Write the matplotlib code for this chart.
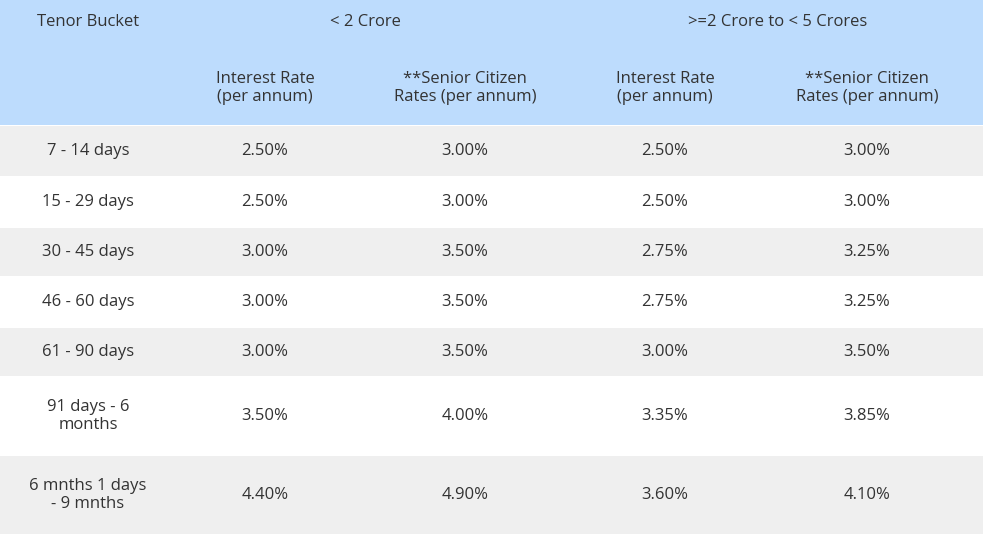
import matplotlib
matplotlib.use("Agg")
import matplotlib.pyplot as plt
from matplotlib.patches import Rectangle

tenors = ["7 - 14 days", "15 - 29 days", "30 - 45 days", "46 - 60 days",
          "61 - 90 days", "91 days - 6\nmonths", "6 mnths 1 days\n- 9 mnths"]
rate_lt2 = ["2.50%", "2.50%", "3.00%", "3.00%", "3.00%", "3.50%", "4.40%"]
senior_lt2 = ["3.00%", "3.00%", "3.50%", "3.50%", "3.50%", "4.00%", "4.90%"]
rate_2to5 = ["2.50%", "2.50%", "2.75%", "2.75%", "3.00%", "3.35%", "3.60%"]
senior_2to5 = ["3.00%", "3.00%", "3.25%", "3.25%", "3.50%", "3.85%", "4.10%"]
groups = ["Tenor Bucket", "< 2 Crore", ">=2 Crore to < 5 Crores"]
subheads = ["Interest Rate\n(per annum)", "**Senior Citizen\nRates (per annum)",
            "Interest Rate\n(per annum)", "**Senior Citizen\nRates (per annum)"]

W, H = 983, 543
col_x = [88, 265, 465, 665, 867]
row_edges = [125, 177, 227, 277, 327, 377, 455, 535]
txt = "#333333"
plt.rcParams["font.family"] = "Open Sans"

fig = plt.figure(figsize=(W / 100, H / 100), dpi=100)
ax = fig.add_axes([0, 0, 1, 1])
ax.set_xlim(0, W)
ax.set_ylim(H, 0)
ax.axis("off")

ax.add_patch(Rectangle((0, 0), W, row_edges[0], color="#bddcfd", lw=0))
fs = 12
ax.text(col_x[0], 22, groups[0], ha="center", va="center", fontsize=fs, color=txt)
ax.text(365, 22, groups[1], ha="center", va="center", fontsize=fs, color=txt)
ax.text(778, 22, groups[2], ha="center", va="center", fontsize=fs, color=txt)
for x, s in zip(col_x[1:], subheads):
    ax.text(x, 88, s, ha="center", va="center", fontsize=fs, color=txt, linespacing=1.2)

cols = [tenors, rate_lt2, senior_lt2, rate_2to5, senior_2to5]
for i in range(len(tenors)):
    y0, y1 = row_edges[i], row_edges[i + 1]
    if i % 2 == 0:
        ax.add_patch(Rectangle((0, y0 + 1), W, y1 - y0 - 2, color="#efefef", lw=0))
    for x, col in zip(col_x, cols):
        ax.text(x, (y0 + y1) / 2, col[i], ha="center", va="center",
                fontsize=fs, color=txt, linespacing=1.2)

fig.savefig("out.png", dpi=100)
